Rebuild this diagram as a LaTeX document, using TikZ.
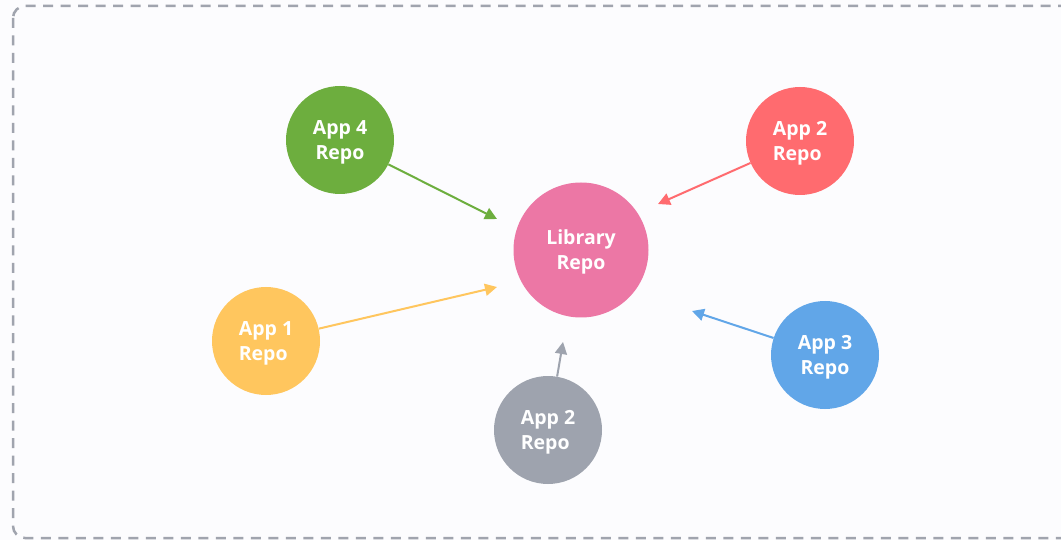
\documentclass[tikz,border=0pt]{standalone}
\usepackage{xcolor}
\usepackage{fontspec}
\setmainfont{Open Sans}
\usepackage{tikz}
\usetikzlibrary{arrows.meta,positioning}

\definecolor{bgcol}{HTML}{FCFCFE}
\definecolor{framecol}{HTML}{A0A4AE}
\definecolor{libcol}{HTML}{EC77A5}
\definecolor{greencol}{HTML}{6DAE3E}
\definecolor{redcol}{HTML}{FF6B6F}
\definecolor{yellowcol}{HTML}{FFC65E}
\definecolor{graycol}{HTML}{9EA3AE}
\definecolor{bluecol}{HTML}{61A6E8}

\tikzset{
  repo/.style = {circle, minimum size=108pt, inner sep=0pt, text=white, text depth=-5pt,
                 font=\fontsize{19.5}{25}\selectfont\bfseries, align=center, on grid},
  link/.style = {line width=2pt, -{Triangle[length=12pt,width=12pt]}},
}

\begin{document}
\begin{tikzpicture}[x=1pt, y=-1pt]
    \useasboundingbox[fill=bgcol] (0,0) rectangle (1061,540);
    % cornice tratteggiata
    \draw[framecol, line width=2.5pt, dash pattern=on 10pt off 7.5pt, rounded corners=12pt]
      (13,6) rectangle (1090,538);

    % Definizione dei nodi
    \node[repo, fill=libcol, minimum size=135pt] (lib) at (581,250) {Library\\Repo}; % repo centrale
    \node[repo, fill=greencol, above left=110pt and 241pt of lib] (app4) {App 4\\Repo};
    \node[repo, fill=redcol, align=left, above right=109pt and 219pt of lib] (app2a) {App 2\\Repo};
    \node[repo, fill=yellowcol, align=left, below left=91pt and 315pt of lib] (app1) {App 1\\Repo};
    \node[repo, fill=graycol, align=left, below left=180pt and 33pt of lib] (app2b) {App 2\\Repo};
    \node[repo, fill=bluecol, below right=105pt and 244pt of lib] (app3) {App 3\\Repo};

    % punte delle frecce (non toccano il cerchio)
    \coordinate[on grid, above left=31pt and 84pt of lib] (e4);
    \coordinate[on grid, above right=46pt and 77pt of lib] (e2a);
    \coordinate[on grid, below left=37pt and 84pt of lib] (e1);
    \coordinate[on grid, below left=92pt and 18pt of lib] (e2b);
    \coordinate[on grid, below right=61pt and 111pt of lib] (e3);

    % Connessioni
    \draw[link, greencol] (app4) -- (e4);
    \draw[link, redcol] (app2a) -- (e2a);
    \draw[link, yellowcol] (app1) -- (e1);
    \draw[link, graycol] (app2b) -- (e2b);
    \draw[link, bluecol] (app3) -- (e3);
\end{tikzpicture}
\end{document}
